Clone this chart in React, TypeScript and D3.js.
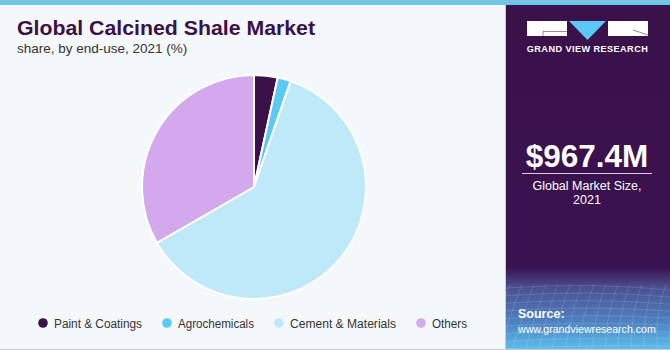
import React from "react";
import * as d3 from "d3";

const categories = ["Paint & Coatings", "Agrochemicals", "Cement & Materials", "Others"];
const shares = [3.4, 1.9, 61.4, 33.3];
const colors = ["#3a1149", "#5bc8f5", "#bde9f9", "#d4a8ec"];
const marketSize = "$967.4M";
const marketLabel = ["Global Market Size,", "2021"];

const W = 670;
const H = 350;
const FONT = "'Liberation Sans', Arial, sans-serif";

export default function App() {
  const cx = 254;
  const cy = 187;
  const r = 112;
  const pie = d3.pie<number>().sort(null).value((d) => d)(shares);
  const arc = d3.arc<d3.PieArcDatum<number>>().innerRadius(0).outerRadius(r);

  const legendX = [43, 167, 279, 421];
  const legendW = [88, 76, 106, 35];

  const meshH: string[] = [];
  for (let i = 0; i < 9; i++) {
    const y0 = 288 + i * 7;
    meshH.push(`M506,${y0 + i * 0.6} Q590,${y0 - 6 + i * 0.8} 670,${y0 + 2}`);
  }
  const meshV: string[] = [];
  for (let i = 0; i < 16; i++) {
    const x0 = 500 + i * 12;
    meshV.push(`M${x0 + 10},284 Q${x0 - 2},315 ${x0 - 14 + i * 1.2},350`);
  }

  return (
    <svg width={W} height={H} style={{ display: "block", position: "absolute", left: 0, top: 0 }}>
      <defs>
        <linearGradient id="panel" x1="0" y1="0" x2="0" y2="1">
          <stop offset="0" stopColor="#3a1149" />
          <stop offset="0.76" stopColor="#3a1250" />
          <stop offset="0.82" stopColor="#4a5192" />
          <stop offset="0.92" stopColor="#4f82c2" />
          <stop offset="1" stopColor="#5cbfec" />
        </linearGradient>
      </defs>
      <rect x={0} y={0} width={W} height={H} fill="#f4f8fb" />
      <rect x={0} y={0} width={W} height={5} fill="#65c8ef" />
      <rect x={0} y={0} width={W} height={1} fill="#9fb7c4" />
      <rect x={505} y={5} width={1} height={H - 5} fill="#c9c9d2" />
      <rect x={506} y={5} width={W - 506} height={H - 5} fill="url(#panel)" />
      <g stroke="#ffffff" strokeOpacity={0.16} fill="none" strokeWidth={0.8}>
        {meshH.map((d, i) => (
          <path key={"h" + i} d={d} />
        ))}
        {meshV.map((d, i) => (
          <path key={"v" + i} d={d} />
        ))}
      </g>
      <rect x={0} y={H - 1} width={W} height={1} fill="#c8ccd2" />

      {/* Title */}
      <text x={17} y={35} fontFamily={FONT} fontWeight="bold" fontSize={21} textLength={298} lengthAdjust="spacingAndGlyphs" fill="#3a1149">
        Global Calcined Shale Market
      </text>
      <text x={17} y={53} fontFamily={FONT} fontSize={13.5} fill="#333333">
        share, by end-use, 2021 (%)
      </text>

      {/* Pie */}
      <g transform={`translate(${cx},${cy})`}>
        {pie.map((p, i) => (
          <path key={i} d={arc(p) || ""} fill={colors[i]} stroke="#ffffff" strokeWidth={2} strokeLinejoin="round" />
        ))}
      </g>

      {/* Legend */}
      {categories.map((c, i) => (
        <g key={c}>
          <circle cx={legendX[i]} cy={323} r={4.8} fill={colors[i]} />
          <text x={legendX[i] + 11} y={327.5} fontFamily={FONT} fontSize={12.5} textLength={legendW[i]} lengthAdjust="spacingAndGlyphs" fill="#333333">
            {c}
          </text>
        </g>
      ))}

      {/* Logo */}
      <rect x={527} y={21} width={40} height={15} fill="#ffffff" />
      <path d="M543,36 L543,31.5 L567,31.5" stroke="#7a6a86" strokeWidth={0.8} fill="none" />
      <path d="M569,21 L606,21 L587.5,40 Z" fill="#5bc8f5" />
      <rect x={608} y={21} width={40} height={15} fill="#ffffff" />
      <path d="M633,30 L648,35" stroke="#7a6a86" strokeWidth={0.8} fill="none" />
      <text x={587.5} y={52} textAnchor="middle" fontFamily={FONT} fontWeight="bold" fontSize={9.2} letterSpacing={0.4} fill="#ffffff">
        GRAND VIEW RESEARCH
      </text>

      {/* Market size */}
      <text x={587} y={167} textAnchor="middle" fontFamily={FONT} fontWeight="bold" fontSize={31.5} fill="#ffffff">
        {marketSize}
      </text>
      <rect x={522} y={173} width={130} height={1} fill="#d8cfe0" />
      <text x={587} y={190} textAnchor="middle" fontFamily={FONT} fontSize={12.5} fill="#ffffff">
        {marketLabel[0]}
      </text>
      <text x={587} y={204} textAnchor="middle" fontFamily={FONT} fontSize={12.5} fill="#ffffff">
        {marketLabel[1]}
      </text>

      {/* Source */}
      <text x={518} y={318} fontFamily={FONT} fontWeight="bold" fontSize={12.5} fill="#ffffff">
        Source:
      </text>
      <text x={518} y={333} fontFamily={FONT} fontSize={10.6} fill="#ffffff">
        www.grandviewresearch.com
      </text>
    </svg>
  );
}
